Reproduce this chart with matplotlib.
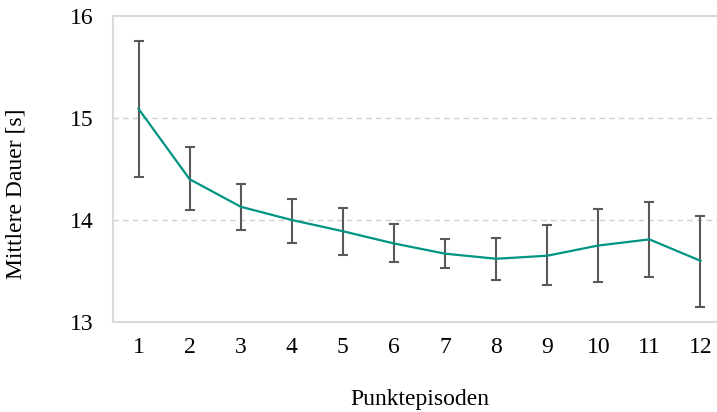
import matplotlib
matplotlib.use("Agg")
import matplotlib.pyplot as plt

# Mittlere Dauer je Punktepisode mit Streuungsintervall
episodes = list(range(1, 13))
mean_duration = [15.09, 14.40, 14.13, 14.00, 13.89, 13.77, 13.67, 13.62, 13.65, 13.75, 13.81, 13.60]
upper_bound = [15.75, 14.72, 14.35, 14.21, 14.12, 13.96, 13.81, 13.82, 13.95, 14.11, 14.18, 14.04]
lower_bound = [14.42, 14.10, 13.90, 13.77, 13.66, 13.59, 13.53, 13.41, 13.36, 13.39, 13.44, 13.15]
y_ticks = [13, 14, 15, 16]

plt.rcParams['font.family'] = ['Liberation Serif', 'DejaVu Serif']
fs = 17

fig = plt.figure(figsize=(7.17, 4.12), dpi=100)
ax = fig.add_axes([0.1576, 0.2184, 0.855, 0.7428])

err_low = [m - lo for m, lo in zip(mean_duration, lower_bound)]
err_high = [hi - m for m, hi in zip(mean_duration, upper_bound)]

ax.errorbar(episodes, mean_duration, yerr=[err_low, err_high], fmt='none',
            ecolor='#595959', elinewidth=1.5, capsize=3.4, capthick=1.5, zorder=2)
ax.plot(episodes, mean_duration, color='#009482', linewidth=1.6, zorder=3)

ax.set_xlim(0.5, 12.5)
ax.set_ylim(13, 16)
ax.set_xticks(episodes)
ax.set_yticks(y_ticks)
ax.tick_params(axis='both', length=0, labelsize=fs, colors='black')
ax.tick_params(axis='y', pad=14)
ax.tick_params(axis='x', pad=11)

for y in [14, 15]:
    ax.axhline(y, color='#d0d0d0', linestyle=(0, (4, 3)), linewidth=1.0, zorder=1)

for side in ['left', 'top', 'bottom', 'right']:
    ax.spines[side].set_color('#d9d9d9')
    ax.spines[side].set_linewidth(1.5)

ax.set_xlabel('Punktepisoden', fontsize=fs, labelpad=22)
ax.set_ylabel('Mittlere Dauer [s]', fontsize=fs)
ax.yaxis.set_label_coords(-0.141, 0.42)

fig.savefig('out.png', dpi=100)
